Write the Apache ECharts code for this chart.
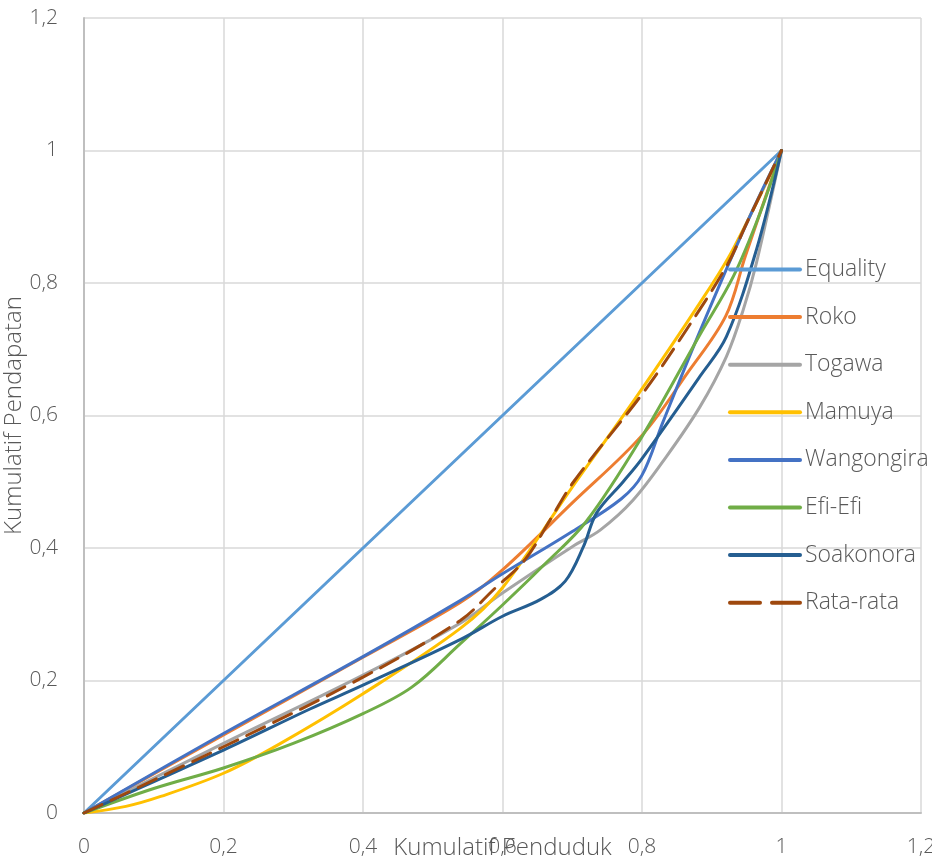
<!DOCTYPE html>
<html>
<head>
<meta charset="utf-8">
<script src="https://cdn.jsdelivr.net/npm/echarts@6/dist/echarts.min.js"></script>
<style>html,body{margin:0;padding:0;background:#fff}#c{width:932px;height:862px}</style>
</head>
<body>
<div id="c"></div>
<script>
var xTicks = [0, 0.2, 0.4, 0.6, 0.8, 1, 1.2];
var yTicks = [0, 0.2, 0.4, 0.6, 0.8, 1, 1.2];
var seriesNames = ['Equality','Roko','Togawa','Mamuya','Wangongira','Efi-Efi','Soakonora','Rata-rata'];

var equality = [[0,0],[1,1]];
var roko = [[0,0],[0.2,0.118],[0.4,0.235],[0.54,0.318],[0.6,0.367],[0.7,0.468],[0.8,0.57],[0.865,0.664],[0.92,0.75],[0.948,0.84],[1,1]];
var togawa = [[0,0],[0.2,0.105],[0.4,0.208],[0.54,0.287],[0.6,0.332],[0.7,0.402],[0.74,0.427],[0.787,0.472],[0.835,0.538],[0.883,0.613],[0.921,0.689],[0.945,0.759],[0.964,0.83],[1,1]];
var mamuya = [[0,0],[0.06,0.01],[0.11,0.025],[0.2,0.06],[0.28,0.104],[0.4,0.18],[0.54,0.279],[0.6,0.34],[0.7,0.492],[0.79,0.625],[0.883,0.77],[0.93,0.85],[1,1]];
var wangongira = [[0,0],[0.2,0.12],[0.4,0.236],[0.54,0.321],[0.6,0.361],[0.7,0.425],[0.77,0.474],[0.8,0.51],[0.83,0.59],[0.883,0.727],[0.95,0.89],[1,1]];
var efiEfi = [[0,0],[0.1,0.037],[0.2,0.068],[0.3,0.105],[0.4,0.15],[0.47,0.19],[0.54,0.256],[0.6,0.314],[0.66,0.375],[0.72,0.44],[0.8,0.568],[0.883,0.722],[0.931,0.81],[0.969,0.905],[1,1]];
var soakonora = [[0,0],[0.2,0.095],[0.324,0.157],[0.4,0.193],[0.54,0.262],[0.6,0.297],[0.654,0.322],[0.69,0.35],[0.716,0.402],[0.735,0.453],[0.773,0.5],[0.8,0.535],[0.883,0.659],[0.921,0.719],[0.964,0.85],[1,1]];
var rataRata = [[0,0],[0.2,0.1],[0.4,0.205],[0.54,0.291],[0.587,0.337],[0.632,0.382],[0.668,0.442],[0.702,0.5],[0.8,0.632],[0.854,0.714],[0.921,0.825],[0.95,0.89],[1,1]];

var colors = ['#5B9BD5','#ED7D31','#A5A5A5','#FFC000','#4472C4','#70AD47','#255E91','#9E480E'];
var datas = [equality, roko, togawa, mamuya, wangongira, efiEfi, soakonora, rataRata];

var FONT = '"Open Sans", "Noto Sans", sans-serif';
function fmt(v){ return String(Math.round(v*10)/10).replace('.', ','); }

var series = seriesNames.map(function(n, i){
  return {
    name: n, type: 'line', data: datas[i], smooth: i === 0 ? false : 0.35,
    symbol: 'none', showSymbol: false, silent: true, animation: false,
    lineStyle: { color: colors[i], width: 3, type: i === 7 ? [20, 10] : 'solid', cap: 'round' },
    itemStyle: { color: colors[i] },
    z: i === 7 ? 10 : 2
  };
});

var legendData = seriesNames.map(function(n, i){
  return i === 7 ? { name: n, lineStyle: { type: [30, 12], width: 4 } } : { name: n };
});

var chart = echarts.init(document.getElementById('c'), null, {renderer: 'canvas'});
chart.setOption({
  animation: false,
  backgroundColor: '#ffffff',
  color: colors,
  grid: { left: 84, right: 11, top: 18, bottom: 49, containLabel: false, outerBoundsMode: 'none' },
  legend: {
    orient: 'vertical', left: 723, top: 253,
    itemWidth: 70, itemHeight: 14, itemGap: 24.6,
    data: legendData,
    textStyle: { fontFamily: FONT, fontSize: 23, fontWeight: 300, color: '#595959' },
    lineStyle: { width: 4 },
    itemStyle: { opacity: 0 }
  },
  xAxis: {
    type: 'value', min: 0, max: 1.2, interval: 0.2,
    name: 'Kumulatif Penduduk', nameLocation: 'middle', nameGap: 23, nameMoveOverlap: false,
    nameTextStyle: { fontFamily: FONT, fontSize: 24, fontWeight: 300, color: '#595959' },
    axisLine: { show: true, lineStyle: { color: '#BFBFBF', width: 2 } },
    axisTick: { show: false },
    axisLabel: { formatter: fmt, fontFamily: FONT, fontSize: 21, fontWeight: 300, color: '#595959', margin: 24 },
    splitLine: { show: true, lineStyle: { color: '#D9D9D9', width: 1.5 } }
  },
  yAxis: {
    type: 'value', min: 0, max: 1.2, interval: 0.2,
    name: 'Kumulatif Pendapatan', nameLocation: 'middle', nameGap: 58, nameRotate: 90, nameMoveOverlap: false,
    nameTextStyle: { fontFamily: FONT, fontSize: 24, fontWeight: 300, color: '#595959' },
    axisLine: { show: true, lineStyle: { color: '#BFBFBF', width: 2 } },
    axisTick: { show: false },
    axisLabel: { formatter: fmt, fontFamily: FONT, fontSize: 21, fontWeight: 300, color: '#595959', margin: 26 },
    splitLine: { show: true, lineStyle: { color: '#D9D9D9', width: 1.5 } }
  },
  series: series
});
</script>
</body>
</html>
